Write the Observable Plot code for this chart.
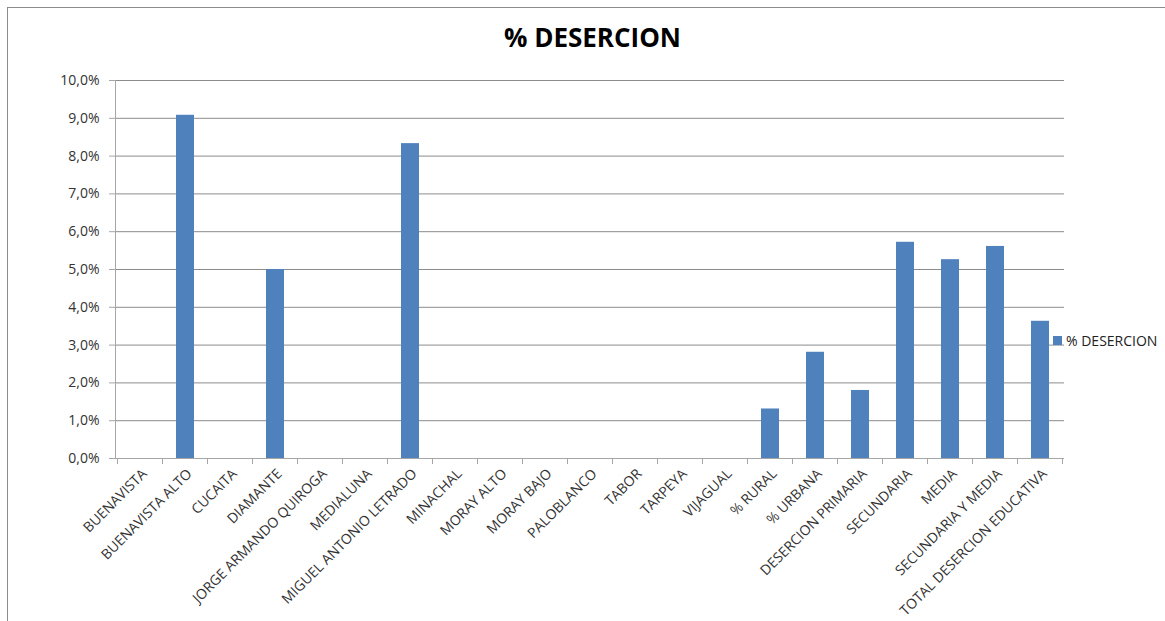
<!DOCTYPE html>
<html><head><meta charset="utf-8">
<script src="https://cdn.jsdelivr.net/npm/d3@7"></script>
<script src="https://cdn.jsdelivr.net/npm/@observablehq/plot@0.6"></script>
<style>
body{margin:0;background:#fff;font-family:"Open Sans",sans-serif;}
#wrap{position:relative;width:1165px;height:621px;overflow:hidden;background:#fff;}
#frame{position:absolute;left:7px;top:7px;width:1300px;height:800px;border-left:1px solid #8c8c8c;border-top:1px solid #8c8c8c;}
#title{position:absolute;left:0;width:1185px;top:19px;text-align:center;font-weight:700;font-size:26px;color:#000;}
#legend{position:absolute;left:1053px;top:331px;font-size:14px;display:flex;align-items:center;color:#222;}
#legend span.sw{display:inline-block;width:9px;height:9px;background:#4f81bd;margin-right:4px;}
#chart{position:absolute;left:0;top:0;}
</style>
</head><body>
<div id="wrap">
  <div id="frame"></div>
  <div id="chart"></div>
  <div id="title">% DESERCION</div>
  <div id="legend"><span class="sw"></span><span>% DESERCION</span></div>
</div>
<script>
const categories = ["BUENAVISTA","BUENAVISTA ALTO","CUCAITA","DIAMANTE","JORGE ARMANDO QUIROGA","MEDIALUNA","MIGUEL ANTONIO LETRADO","MINACHAL","MORAY ALTO","MORAY BAJO","PALOBLANCO","TABOR","TARPEYA","VIJAGUAL","% RURAL","% URBANA","DESERCION PRIMARIA","SECUNDARIA","MEDIA","SECUNDARIA Y MEDIA","TOTAL DESERCION EDUCATIVA"];
const values = [0, 0.0908, 0, 0.05, 0, 0, 0.0833, 0, 0, 0, 0, 0, 0, 0, 0.0131, 0.0281, 0.0180, 0.0572, 0.0526, 0.0561, 0.0363];
const yTicks = [0, 0.01, 0.02, 0.03, 0.04, 0.05, 0.06, 0.07, 0.08, 0.09, 0.10];

const data = categories.map((c, i) => ({cat: c, value: values[i]}));
const fmt = d => (d * 100).toFixed(1).replace(".", ",") + "%";
const axisGray = "#a6a6a6";

function boundaryTicks(index, scales, vals, dims) {
  const x = scales.x, y0 = scales.y(0);
  const st = x.step(), bw = x.bandwidth();
  const g = d3.create("svg:g").attr("stroke", axisGray);
  const xs = categories.map(c => x(c) - (st - bw) / 2);
  xs.push(x(categories[categories.length - 1]) + bw + (st - bw) / 2);
  xs.forEach(xb => g.append("line").attr("x1", xb).attr("x2", xb).attr("y1", y0).attr("y2", y0 + 6));
  return g.node();
}

const chart = Plot.plot({
  width: 1165, height: 621,
  marginLeft: 115, marginRight: 101, marginTop: 80, marginBottom: 163,
  style: {fontFamily: "'Open Sans', sans-serif", fontSize: "14px", color: "#333", background: "transparent"},
  x: {domain: categories, paddingInner: 0.6, paddingOuter: 0.3, label: null},
  y: {domain: [0, 0.1], label: null},
  marks: [
    Plot.gridY(yTicks, {stroke: "#8c8c8c", strokeOpacity: 1}),
    Plot.barY(data, {x: "cat", y: "value", fill: "#4f81bd"}),
    Plot.ruleY([0], {stroke: axisGray}),
    Plot.frame({anchor: "left", stroke: axisGray}),
    boundaryTicks,
    Plot.axisY({ticks: yTicks, tickFormat: fmt, tickSize: 6, tickPadding: 10, stroke: axisGray, fill: "#333", label: null}),
    Plot.axisX({tickSize: 0, tickRotate: -45, tickPadding: 13, dx: 4, fill: "#333", label: null})
  ]
});
document.getElementById("chart").appendChild(chart);
</script>
</body></html>
